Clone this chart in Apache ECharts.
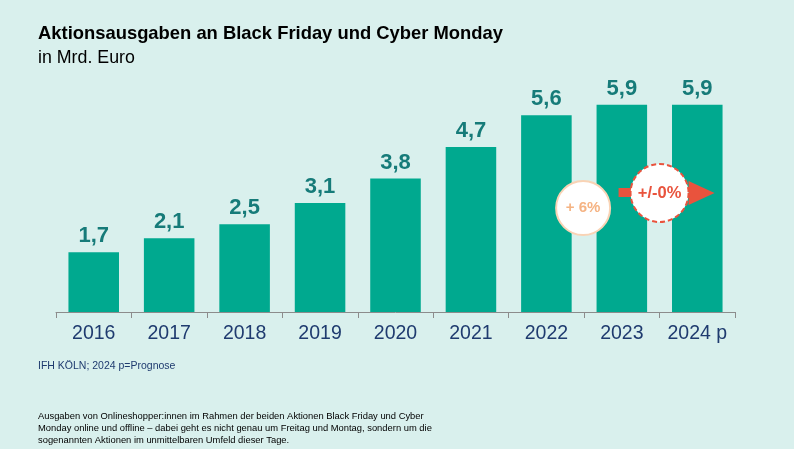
<!DOCTYPE html>
<html><head><meta charset="utf-8">
<script src="https://cdn.jsdelivr.net/npm/echarts@6/dist/echarts.min.js"></script>
<style>html,body{margin:0;padding:0;background:#d9f0ed;}#c{width:794px;height:449px;}</style>
</head><body><div id="c"></div>
<script>
const categories = ['2016','2017','2018','2019','2020','2021','2022','2023','2024 p'];
const values = [1.7, 2.1, 2.5, 3.1, 3.8, 4.7, 5.6, 5.9, 5.9];
const growthLabels = ['+ 6%', '+/-0%'];
const titleText = 'Aktionsausgaben an Black Friday und Cyber Monday';
const subtitleText = 'in Mrd. Euro';
const sourceText = 'IFH KÖLN; 2024 p=Prognose';
const noteText = 'Ausgaben von Onlineshopper:innen im Rahmen der beiden Aktionen Black Friday und Cyber\nMonday online und offline – dabei geht es nicht genau um Freitag und Montag, sondern um die\nsogenannten Aktionen im unmittelbaren Umfeld dieser Tage.';

const chart = echarts.init(document.getElementById('c'), null, {renderer:'canvas'});
const font = '"Liberation Sans", Arial, sans-serif';
chart.setOption({
  backgroundColor: '#d9f0ed',
  animation: false,
  textStyle: {fontFamily: font},
  title: [
    {text: titleText, left: 33, top: 20, textStyle:{fontFamily:font, fontSize:18.4, fontWeight:'bold', color:'#000'}},
    {text: subtitleText, left: 33, top: 44, textStyle:{fontFamily:font, fontSize:17.8, fontWeight:'normal', color:'#000'}},
    {text: sourceText, left: 33, top: 356, textStyle:{fontFamily:font, fontSize:10.5, fontWeight:'normal', color:'#1f3b6f'}},
    {text: noteText, left: 33, top: 405, textStyle:{fontFamily:font, fontSize:9.4, fontWeight:'normal', color:'#000', lineHeight:12}}
  ],
  grid: {left: 56, right: 59, top: 31, bottom: 137},
  xAxis: {
    type: 'category', data: categories,
    axisLine: {lineStyle:{color:'#8c8c8c', width:1}},
    axisTick: {show:true, interval:0, length:6, lineStyle:{color:'#8c8c8c'}},
    axisLabel: {interval:0, hideOverlap:false, color:'#1f3b6f', fontSize:19.5, margin:12, fontFamily:font}
  },
  yAxis: {type:'value', min:0, max:8, show:false, splitLine:{show:false}},
  series: [{
    type:'bar', data: values, barCategoryGap:'33%',
    itemStyle:{color:'#00a98f'},
    label:{show:true, position:'top', distance:5, color:'#167b79', fontSize:22, fontWeight:'bold', fontFamily:font,
      formatter: p => p.value.toFixed(1).replace('.', ',')}
  }]
});

// annotations positioned from the axis scale
const p22 = chart.convertToPixel({xAxisIndex:0, yAxisIndex:0}, [6, 0]);
const p23 = chart.convertToPixel({xAxisIndex:0, yAxisIndex:0}, [7, 0]);
const p24 = chart.convertToPixel({xAxisIndex:0, yAxisIndex:0}, [8, 0]);
const c1x = (p22[0] + p23[0]) / 2 - 1, c2x = (p23[0] + p24[0]) / 2;
const c1y = 208, c2y = 193;
chart.setOption({
  graphic: [
    {type:'rect', shape:{x:c2x-41, y:c2y-5, width:30, height:9}, style:{fill:'#e9533d'}, z:100},
    {type:'polygon', shape:{points:[[c2x+29,c2y-12],[c2x+55,c2y],[c2x+29,c2y+12]]}, style:{fill:'#e9533d'}, z:100},
    {type:'circle', shape:{cx:c1x, cy:c1y, r:27}, style:{fill:'#ffffff', stroke:'#f9d3b5', lineWidth:2}, z:100},
    {type:'text', x:c1x, y:c1y, style:{text:growthLabels[0], fill:'#f5b383', font:'bold 15px '+font, align:'center', verticalAlign:'middle'}, z:101},
    {type:'circle', shape:{cx:c2x, cy:c2y, r:29}, style:{fill:'#ffffff', stroke:'#e9533d', lineWidth:2, lineDash:[5,3]}, z:100},
    {type:'text', x:c2x, y:c2y, style:{text:growthLabels[1], fill:'#e9533d', font:'bold 16.5px '+font, align:'center', verticalAlign:'middle'}, z:101}
  ]
});
</script></body></html>
